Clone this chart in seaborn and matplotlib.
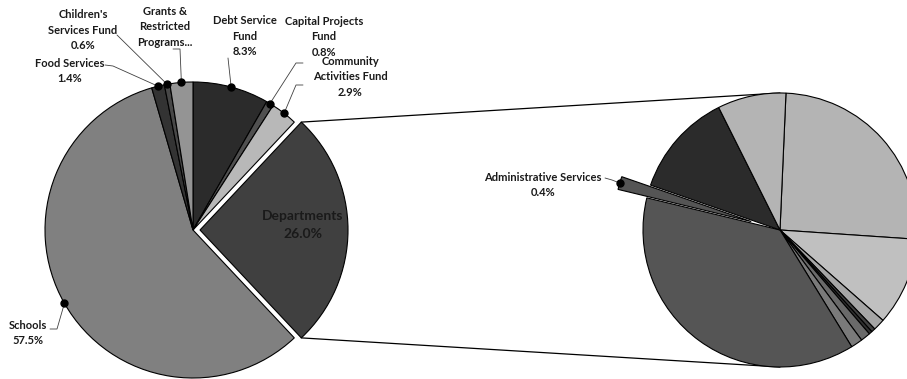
import numpy as np
import matplotlib
matplotlib.use("Agg")
import matplotlib.pyplot as plt
import seaborn as sns

# ---------------- data ----------------
main_labels = ["Debt Service\nFund", "Capital Projects\nFund", "Community\nActivities Fund",
               "Departments", "Schools", "Food Services", "Children's\nServices Fund",
               "Grants &\nRestricted\nPrograms..."]
main_values = [8.3, 0.8, 2.9, 26.0, 57.5, 1.4, 0.6, 2.5]
main_pct_text = ["8.3%", "0.8%", "2.9%", "26.0%", "57.5%", "1.4%", "0.6%", ""]

dept_labels = ["", "", "", "", "", "", "", "", "Administrative Services", "", ""]
dept_values = [6.6, 2.7, 0.36, 0.12, 0.10, 0.30, 0.36, 9.76, 0.4, 3.2, 2.1]
dept_pct_text = ["", "", "", "", "", "", "", "", "0.4%", "", ""]

main_colors = ["#2b2b2b", "#505050", "#b8b8b8", "#404040", "#808080", "#333333", "#474747", "#949494"]
dept_colors = ["#b4b4b4", "#c0c0c0", "#a6a6a6", "#404040", "#303030", "#6a6a6a", "#7a7a7a",
               "#555555", "#555555", "#2b2b2b", "#b4b4b4"]

# ---------------- style ----------------
sns.set_theme(style="white")
plt.rcParams["font.family"] = ["Lato", "DejaVu Sans"]

W, H = 907, 379
fig = plt.figure(figsize=(W / 100, H / 100), dpi=100)
ax = fig.add_axes([0, 0, 1, 1])


def py(y):
    return H - y


c1 = (193, py(230)); r1 = 148
c2 = (780, py(230)); r2 = 137

wp = dict(edgecolor="black", linewidth=0.8)
w1, _ = ax.pie(main_values, colors=main_colors, startangle=90, counterclock=False,
               center=c1, radius=r1, explode=[0, 0, 0, 7, 0, 0, 0, 0],
               wedgeprops=wp)
w2, _ = ax.pie(dept_values, colors=dept_colors, startangle=87.5, counterclock=False,
               center=c2, radius=r2, explode=[0, 0, 0, 0, 0, 0, 0, 0, 30, 0, 0],
               wedgeprops=wp)

ax.set_xlim(0, W)
ax.set_ylim(0, H)
ax.set_aspect("equal")
ax.axis("off")

# connector lines between the departments wedge and the second pie
dw = w1[3]
cx, cy = dw.center
tt = np.deg2rad(dw.theta2); tb = np.deg2rad(dw.theta1)
ax.plot([cx + dw.r * np.cos(tt), c2[0]], [cy + dw.r * np.sin(tt), c2[1] + r2],
        color="black", lw=0.9, zorder=0.5)
ax.plot([cx + dw.r * np.cos(tb), c2[0]], [cy + dw.r * np.sin(tb), c2[1] - r2],
        color="black", lw=0.9, zorder=0.5)


def anchor(w):
    th = np.deg2rad((w.theta1 + w.theta2) / 2)
    x0, y0 = w.center
    return x0 + w.r * np.cos(th), y0 + w.r * np.sin(th)


FS = 8
LS = 1.45
txtc = "#1a1a1a"
lc = "#404040"

# layout (pixel coordinates): text centre, leader points from text to wedge
layout = {
    0: dict(txt=(245, 36), lead=[(228, 58)]),
    1: dict(txt=(324, 37), lead=[(303, 63), (296, 63)]),
    2: dict(txt=(350, 77), lead=[(303, 85), (296, 85)]),
    4: dict(txt=(28, 333), lead=[(50, 329), (57, 329)]),
    5: dict(txt=(70, 71), lead=[(105, 65), (113, 66)]),
    6: dict(txt=(83, 30), lead=[(117, 35)]),
    7: dict(txt=(165, 27), lead=[(173, 49), (180, 49)]),
}

for i, lay in layout.items():
    ax_, ay_ = anchor(w1[i])
    xs = [p[0] for p in lay["lead"]] + [ax_]
    ys = [py(p[1]) for p in lay["lead"]] + [ay_]
    ax.plot(xs, ys, color=lc, lw=0.6, zorder=5)
    ax.plot([ax_], [ay_], "o", color="black", ms=5, zorder=6)
    label = main_labels[i] + ("\n" + main_pct_text[i] if main_pct_text[i] else "")
    ax.text(lay["txt"][0], py(lay["txt"][1]), label, ha="center", va="center",
            fontsize=FS, fontweight="bold", color=txtc, linespacing=LS, zorder=7)

# departments label
ax.text(303, py(225), main_labels[3] + "\n" + main_pct_text[3], ha="center", va="center",
        fontsize=10, fontweight="bold", color=txtc, linespacing=1.5, zorder=7)

# administrative services label
aw = w2[8]
ax_, ay_ = anchor(aw)
ax.plot([605, 612, ax_], [py(178), py(180), ay_], color=lc, lw=0.6, zorder=5)
ax.plot([ax_], [ay_], "o", color="black", ms=5, zorder=6)
ax.text(543, py(185), dept_labels[8] + "\n" + dept_pct_text[8], ha="center", va="center",
        fontsize=FS, fontweight="bold", color=txtc, linespacing=LS, zorder=7)

fig.savefig("out.png", dpi=100, facecolor="white")
